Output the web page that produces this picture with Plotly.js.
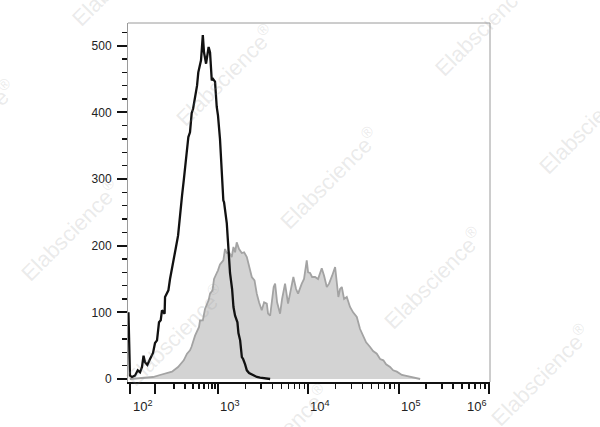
<!DOCTYPE html>
<html>
<head>
<meta charset="utf-8">
<script src="https://cdn.plot.ly/plotly-3.0.1.min.js"></script>
<style>
  html, body { margin: 0; padding: 0; background: #ffffff; }
  #chart { width: 600px; height: 427px; }
</style>
</head>
<body>
<div id="chart"></div>
<script>
// x values are positions on the logicle-style display axis, in decade units
// (10^3..10^6 are linear decades; the 10^2..10^3 decade is compressed)

// Control / isotype histogram (black line)
const isoX = [2.009,2.026,2.048,2.081,2.112,2.137,2.159,2.176,2.192,2.218,2.248,2.281,2.303,2.325,2.347,2.366,2.380,2.409,2.414,2.451,2.469,2.491,2.513,2.535,2.558,2.580,2.602,2.621,2.641,2.663,2.672,2.690,2.709,2.724,2.746,2.768,2.782,2.801,2.812,2.832,2.845,2.868,2.879,2.896,2.912,2.931,2.945,2.967,2.986,3.000,3.022,3.045,3.059,3.067,3.097,3.111,3.133,3.156,3.171,3.189,3.215,3.226,3.245,3.264,3.278,3.300,3.319,3.344,3.384,3.430,3.466,3.522,3.577];
const isoY = [100,5,3,5,13,10,18,35,25,21,30,39,54,58,85,88,103,98,123,133,150,168,180,198,215,249,275,298,320,348,363,370,399,405,423,440,460,470,478,516,490,473,485,498,490,448,450,446,408,395,360,294,268,265,234,205,159,135,108,95,85,69,58,33,30,22,13,9,6,3,2,1,0];

// Stained sample histogram (grey filled)
const stainX = [2.026,2.137,2.281,2.358,2.414,2.491,2.558,2.621,2.657,2.690,2.706,2.746,2.790,2.801,2.832,2.856,2.896,2.912,2.939,2.956,2.986,3.000,3.022,3.059,3.078,3.097,3.122,3.152,3.171,3.189,3.207,3.233,3.263,3.289,3.319,3.344,3.374,3.404,3.429,3.454,3.484,3.510,3.540,3.554,3.577,3.616,3.632,3.654,3.687,3.709,3.742,3.775,3.806,3.834,3.864,3.886,3.927,3.952,3.982,3.997,4.019,4.041,4.074,4.107,4.148,4.174,4.204,4.229,4.263,4.296,4.332,4.351,4.370,4.395,4.425,4.461,4.495,4.536,4.572,4.609,4.639,4.683,4.716,4.757,4.794,4.830,4.860,4.904,4.938,4.979,5.035,5.071,5.126,5.181,5.237];
const stainY = [0,1,3,6,8,11,18,28,38,43,48,65,78,88,88,105,118,128,133,150,159,163,172,178,195,189,190,183,198,190,205,195,189,190,183,168,153,148,128,115,103,115,113,98,95,138,143,115,98,120,143,113,133,153,135,128,143,150,178,160,159,153,153,150,166,155,138,143,155,168,123,135,138,120,123,108,100,93,75,63,55,48,42,38,30,28,22,18,13,11,6,5,3,2,0];

// Axis ticks
const decadeLabels = ['10<sup>2</sup>','10<sup>3</sup>','10<sup>4</sup>','10<sup>5</sup>','10<sup>6</sup>'];
const decadePos = [2.303, 3, 4, 5, 6];
const yTickVals = [0, 100, 200, 300, 400, 500];

// build axis scale helpers
const lowDecadeWidth = decadePos[1] - decadePos[0];
const minorX = [];
for (let k = 2; k <= 9; k++) minorX.push(decadePos[0] + lowDecadeWidth * Math.log10(k));
for (let d = 1; d < decadePos.length - 1; d++) {
  for (let k = 2; k <= 9; k++) minorX.push(decadePos[d] + Math.log10(k));
}
const xMin = 2.004, xMax = 6.01;
const majorX = [2.026].concat(decadePos);

const font = '"Liberation Sans", Arial, sans-serif';

const traces = [
  {
    x: stainX, y: stainY, type: 'scatter', mode: 'lines',
    fill: 'tozeroy', fillcolor: '#d3d3d3',
    line: { color: '#a3a3a3', width: 1.8 },
    hoverinfo: 'skip', showlegend: false
  },
  {
    x: isoX, y: isoY, type: 'scatter', mode: 'lines',
    line: { color: '#111111', width: 2.3 },
    hoverinfo: 'skip', showlegend: false
  }
];

// x tick labels (FlowJo-style placement relative to the tick)
const annotations = decadeLabels.map((t, i) => ({
  x: decadePos[i], xref: 'x', y: 0, yref: 'paper',
  text: t, showarrow: false,
  xanchor: (i === 0 || i === decadeLabels.length - 1) ? 'right' : 'left',
  yanchor: 'top', yshift: -14,
  font: { family: font, size: 13, color: '#222' }
}));

// watermark lattice (pixel centres)
const wmPix = [[-34,130],[70,230],[175,335],[279,435],[121,-25],[225,75],[329,178],[433,278],[540,375],[484,25],[588,123]];
const plotL = 128, plotW = 362, plotB = 382, plotH = 359.3;
wmPix.forEach(p => {
  annotations.push({
    x: (p[0] - plotL) / plotW, y: (plotB - p[1]) / plotH,
    xref: 'paper', yref: 'paper', showarrow: false,
    text: 'Elabscience<sup>®</sup>', textangle: -45,
    xanchor: 'center', yanchor: 'middle',
    font: { family: font, size: 22, color: 'rgba(150,150,150,0.2)' }
  });
});

const layout = {
  width: 600, height: 427,
  margin: { l: 128, r: 110, t: 23, b: 45 },
  paper_bgcolor: '#ffffff', plot_bgcolor: '#ffffff',
  showlegend: false,
  xaxis: {
    type: 'linear', range: [xMin, xMax],
    showgrid: false, zeroline: false,
    showline: true, linecolor: '#111', linewidth: 2,
    tickmode: 'array', tickvals: majorX, showticklabels: false,
    ticks: 'outside', ticklen: 10, tickwidth: 2, tickcolor: '#111',
    minor: { tickmode: 'array', tickvals: minorX, ticks: 'outside', ticklen: 5, tickwidth: 1.3, tickcolor: '#111', showgrid: false }
  },
  yaxis: {
    range: [-4.5, 534],
    showgrid: false, zeroline: false,
    showline: true, linecolor: '#9a9a9a', linewidth: 1,
    tickmode: 'array', tickvals: yTickVals,
    ticks: 'outside', ticklen: 10, tickwidth: 2, tickcolor: '#111',
    tickfont: { family: font, size: 12, color: '#222' },
    ticklabelstandoff: 3,
    minor: { dtick: 20, tick0: 0, ticks: 'outside', ticklen: 5, tickwidth: 1.3, tickcolor: '#111', showgrid: false }
  },
  shapes: [
    { type: 'line', xref: 'paper', yref: 'paper', x0: 0, x1: 1, y0: 1, y1: 1, line: { color: '#9a9a9a', width: 1 } },
    { type: 'line', xref: 'paper', yref: 'paper', x0: 1, x1: 1, y0: 0, y1: 1, line: { color: '#9a9a9a', width: 1 } }
  ],
  annotations: annotations
};

Plotly.newPlot('chart', traces, layout, { staticPlot: true, displayModeBar: false });
</script>
</body>
</html>
